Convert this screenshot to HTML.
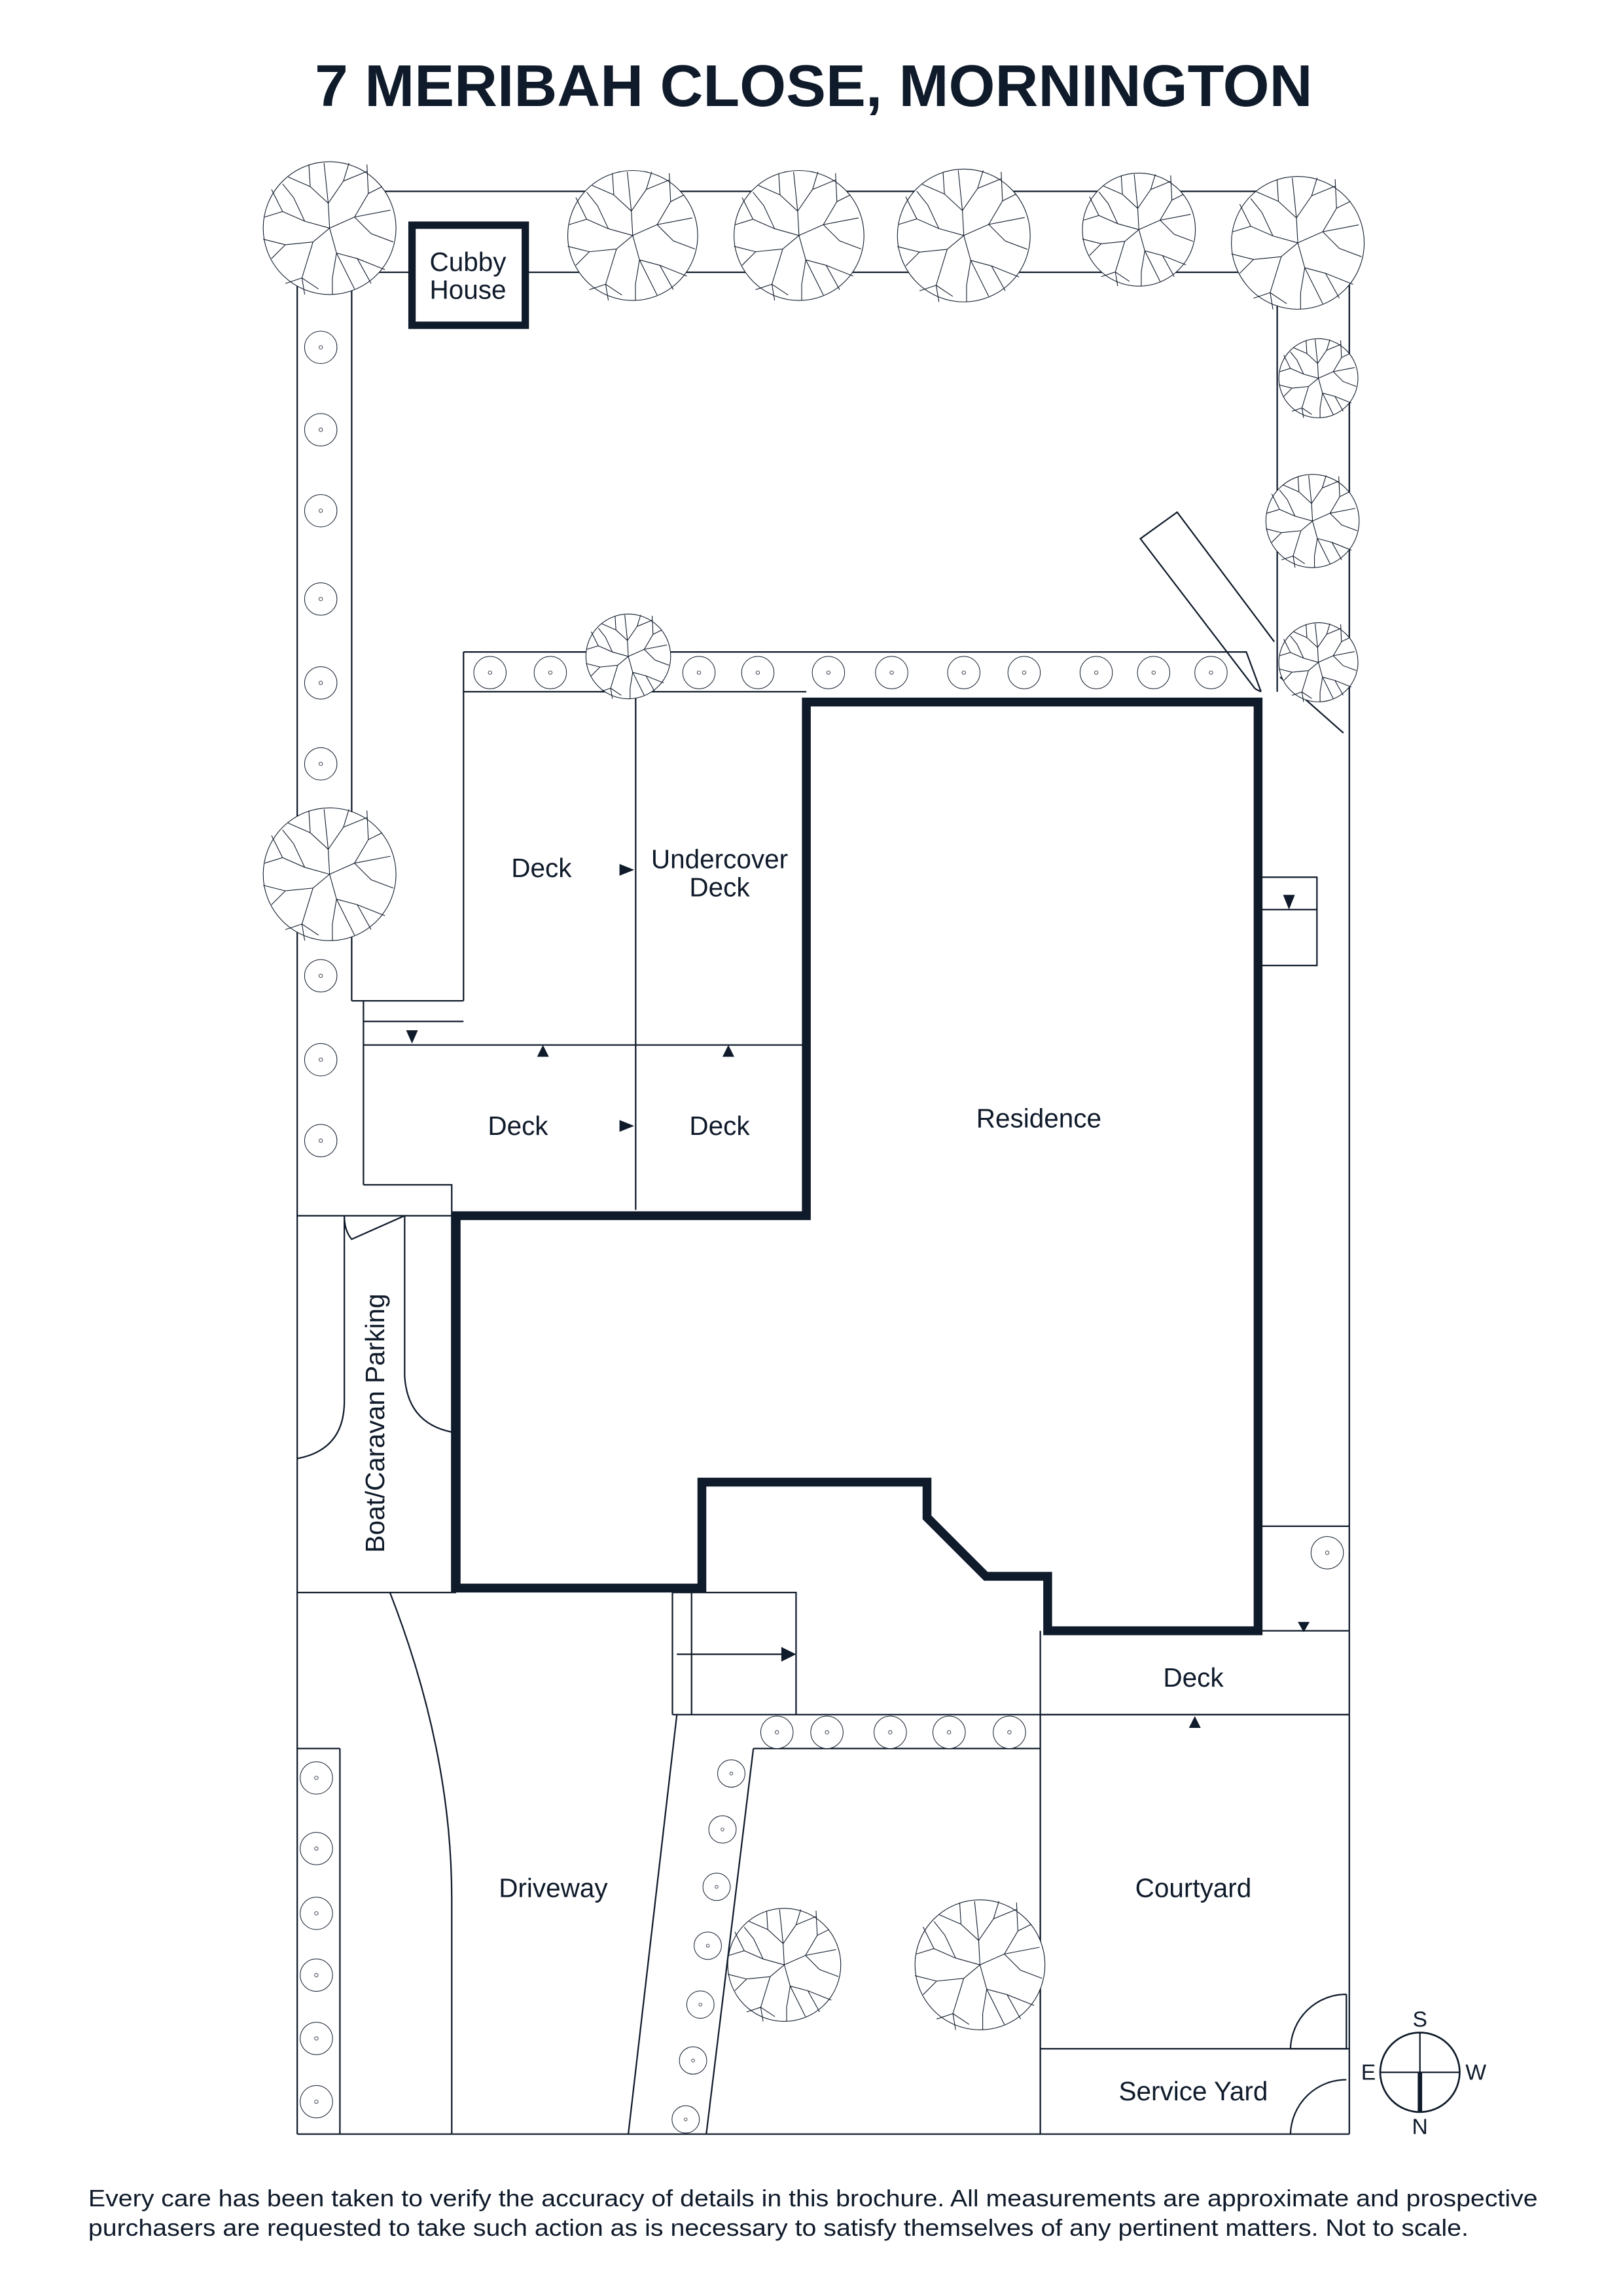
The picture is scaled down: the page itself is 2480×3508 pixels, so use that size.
<!DOCTYPE html>
<html><head><meta charset="utf-8"><style>
html,body{margin:0;padding:0;background:#fff}
svg{display:block}
text{font-family:"Liberation Sans",sans-serif;fill:#0f1a2a}
</style></head><body>
<svg width="2480" height="3508" viewBox="0 0 1103 1560" preserveAspectRatio="none" xmlns="http://www.w3.org/2000/svg">
<defs>
<symbol id="tree" viewBox="-50 -50 100 100" overflow="visible">
<g fill="none" stroke="#0f1a2a" stroke-width="1.1" vector-effect="non-scaling-stroke">
<circle cx="0" cy="0" r="48" fill="#fff" vector-effect="non-scaling-stroke"/>
<path vector-effect="non-scaling-stroke" d="M0,0 L-1,-18 L-4,-47 M-1,-18 L-14,-30 L-15,-46 M-14,-30 L-30,-37 M-1,-18 L10,-34 L14,-47 M10,-34 L27,-41 M0,0 L18,-8 L44,-13 M18,-8 L28,-25 L38,-30 M28,-25 L27,-46 M18,-8 L30,4 L46,10 M0,0 L5,18 L18,44 M5,18 L20,22 L40,30 M5,18 L2,36 L2,48 M20,22 L30,40 M0,0 L-12,10 L-20,36 L-18,48 M-20,36 L-32,40 M-12,10 L-32,12 L-48,8 M-32,12 L-42,22 M0,0 L-18,-5 L-34,-12 L-47,-8 M-34,-12 L-42,-28 M-18,-5 L-26,-22 L-34,-32 M-20,36 L-8,44"/>
</g>
</symbol>
<symbol id="sh" viewBox="-13 -13 26 26" overflow="visible">
<circle cx="0" cy="0" r="11" fill="#fff" stroke="#0f1a2a" stroke-width="1" vector-effect="non-scaling-stroke"/>
<circle cx="0" cy="0" r="1.2" fill="none" stroke="#0f1a2a" stroke-width="0.8" vector-effect="non-scaling-stroke"/>
</symbol>
</defs>

<text x="553" y="72" font-size="40" font-weight="bold" text-anchor="middle" textLength="678" lengthAdjust="spacingAndGlyphs">7 MERIBAH CLOSE, MORNINGTON</text>

<g fill="none" stroke="#0f1a2a" stroke-width="1">
<!-- top strip -->
<path d="M224,130 H880 M224,185 H880"/>
<!-- left strip -->
<path d="M202,185 V1450 M239,185 V680"/>
<!-- right strip -->
<path d="M868,185 V470 M917,185 V1450"/>
<!-- diagonal bar -->
<path d="M866,436 L800,348 L775,366 L853,468 M870,460 L913,498"/>
<!-- deck strip -->
<path d="M315,443 H847 L857,470 M315,470 H548 M315,443 V680 M432,470 V822"/>
<path d="M853,468 L857,470"/>
<!-- lower deck -->
<path d="M239,680 H315 M247,680 V805 M247,694 H315 M247,710 H548 M247,805 H307 V826 M202,826 H310"/>
<!-- boat parking -->
<path d="M234,826 V952 Q234,985 202,991 M275,826 V935 Q277,967 307,973 M275,826 L239,842 Q234,836 234,826 M307,826 V1082 M202,1082 H310"/>
<!-- step box -->
<path d="M457,1082 H541 V1165 M457,1082 V1165 M470,1082 V1165 M460,1124 H534"/>
<!-- driveway -->
<path d="M265,1082 Q307,1190 307,1290 V1450 M231,1188 V1450 M202,1188 H231 M460,1165 L427,1450 M512,1188 L480,1450 M457,1165 H917 M512,1188 H707"/>
<!-- right side -->
<path d="M857,596 H895 V656 H857 M857,618 H895 M857,1037 H917 M857,1108 H917 M707,1108 V1450 M707,1165 H917 M707,1392 H917 M202,1450 H917"/>
<path d="M877,1392 A38,38 0 0 1 915,1355 M877,1392 H915 V1355"/>
<path d="M877,1450 A38,38 0 0 1 915,1413"/>
</g>
<!-- residence -->
<path d="M310,826 H548 V477 H855 V1108 H712 V1071 H670 L630,1031 V1007 H477 V1079 H310 Z" fill="none" stroke="#0f1a2a" stroke-width="6"/>
<!-- cubby -->
<rect x="280" y="153" width="77" height="68" fill="#fff" stroke="#0f1a2a" stroke-width="5"/>

<!-- arrows -->
<g fill="#0f1a2a">
<path d="M421,587 L431,591 L421,595Z"/>
<path d="M421,761 L431,765 L421,769Z"/>
<path d="M365,718 L369,710 L373,718Z"/>
<path d="M491,718 L495,710 L499,718Z"/>
<path d="M276,700 L280,709 L284,700Z"/>
<path d="M872,608 L876,618 L880,608Z"/>
<path d="M882,1102 L886,1109 L890,1102Z"/>
<path d="M808,1174 L812,1166 L816,1174Z"/>
<path d="M531,1119 L541,1124 L531,1129Z"/>
</g>

<!-- trees -->
<use href="#tree" x="177" y="108" width="94" height="94"/>
<use href="#tree" x="384" y="114" width="92" height="92"/>
<use href="#tree" x="497" y="114" width="92" height="92"/>
<use href="#tree" x="608" y="113" width="94" height="94"/>
<use href="#tree" x="734" y="116" width="80" height="80"/>
<use href="#tree" x="835" y="118" width="94" height="94"/>
<use href="#tree" x="868" y="229" width="56" height="56"/>
<use href="#tree" x="859" y="321" width="66" height="66"/>
<use href="#tree" x="868" y="422" width="56" height="56"/>
<use href="#tree" x="177" y="547" width="94" height="94"/>
<use href="#tree" x="397" y="416" width="60" height="60"/>
<use href="#tree" x="493" y="1295" width="80" height="80"/>
<use href="#tree" x="620" y="1289" width="92" height="92"/>

<!-- shrubs -->
<g>
<use href="#sh" x="205" y="223" width="26" height="26"/>
<use href="#sh" x="205" y="279" width="26" height="26"/>
<use href="#sh" x="205" y="334" width="26" height="26"/>
<use href="#sh" x="205" y="394" width="26" height="26"/>
<use href="#sh" x="205" y="451" width="26" height="26"/>
<use href="#sh" x="205" y="506" width="26" height="26"/>
<use href="#sh" x="205" y="650" width="26" height="26"/>
<use href="#sh" x="205" y="707" width="26" height="26"/>
<use href="#sh" x="205" y="762" width="26" height="26"/>
<use href="#sh" x="320" y="444" width="26" height="26"/>
<use href="#sh" x="361" y="444" width="26" height="26"/>
<use href="#sh" x="462" y="444" width="26" height="26"/>
<use href="#sh" x="502" y="444" width="26" height="26"/>
<use href="#sh" x="550" y="444" width="26" height="26"/>
<use href="#sh" x="593" y="444" width="26" height="26"/>
<use href="#sh" x="642" y="444" width="26" height="26"/>
<use href="#sh" x="683" y="444" width="26" height="26"/>
<use href="#sh" x="732" y="444" width="26" height="26"/>
<use href="#sh" x="771" y="444" width="26" height="26"/>
<use href="#sh" x="810" y="444" width="26" height="26"/>
<use href="#sh" x="515" y="1164" width="26" height="26"/>
<use href="#sh" x="549" y="1164" width="26" height="26"/>
<use href="#sh" x="592" y="1164" width="26" height="26"/>
<use href="#sh" x="632" y="1164" width="26" height="26"/>
<use href="#sh" x="673" y="1164" width="26" height="26"/>
<use href="#sh" x="202" y="1195" width="26" height="26"/>
<use href="#sh" x="202" y="1243" width="26" height="26"/>
<use href="#sh" x="202" y="1287" width="26" height="26"/>
<use href="#sh" x="202" y="1329" width="26" height="26"/>
<use href="#sh" x="202" y="1372" width="26" height="26"/>
<use href="#sh" x="202" y="1415" width="26" height="26"/>
<use href="#sh" x="486" y="1194" width="22" height="22"/>
<use href="#sh" x="480" y="1232" width="22" height="22"/>
<use href="#sh" x="476" y="1271" width="22" height="22"/>
<use href="#sh" x="470" y="1311" width="22" height="22"/>
<use href="#sh" x="465" y="1351" width="22" height="22"/>
<use href="#sh" x="460" y="1389" width="22" height="22"/>
<use href="#sh" x="455" y="1429" width="22" height="22"/>
<use href="#sh" x="889" y="1042" width="26" height="26"/>
</g>

<!-- labels -->
<g font-size="18" text-anchor="middle">
<text x="318" y="184">Cubby</text>
<text x="318" y="203">House</text>
<text x="368" y="596">Deck</text>
<text x="489" y="590">Undercover</text>
<text x="489" y="609">Deck</text>
<text x="352" y="771">Deck</text>
<text x="489" y="771">Deck</text>
<text x="706" y="766">Residence</text>
<text x="811" y="1146">Deck</text>
<text x="376" y="1289">Driveway</text>
<text x="811" y="1289">Courtyard</text>
<text x="811" y="1427">Service Yard</text>
<text transform="translate(261,967) rotate(-90)">Boat/Caravan Parking</text>
</g>

<!-- compass -->
<g stroke="#0f1a2a" fill="none">
<circle cx="965" cy="1408" r="27" stroke-width="1.2"/>
<path d="M965,1381 V1408 M938,1408 H992" stroke-width="1"/>
<path d="M965,1408 V1435" stroke-width="3"/>
</g>
<g font-size="15" text-anchor="middle">
<text x="965" y="1377">S</text>
<text x="965" y="1450">N</text>
<text x="930" y="1413">E</text>
<text x="1003" y="1413">W</text>
</g>

<text x="60" y="1499" font-size="16" textLength="985" lengthAdjust="spacingAndGlyphs">Every care has been taken to verify the accuracy of details in this brochure. All measurements are approximate and prospective</text>
<text x="60" y="1519" font-size="16" textLength="938" lengthAdjust="spacingAndGlyphs">purchasers are requested to take such action as is necessary to satisfy themselves of any pertinent matters. Not to scale.</text>
</svg>
</body></html>
